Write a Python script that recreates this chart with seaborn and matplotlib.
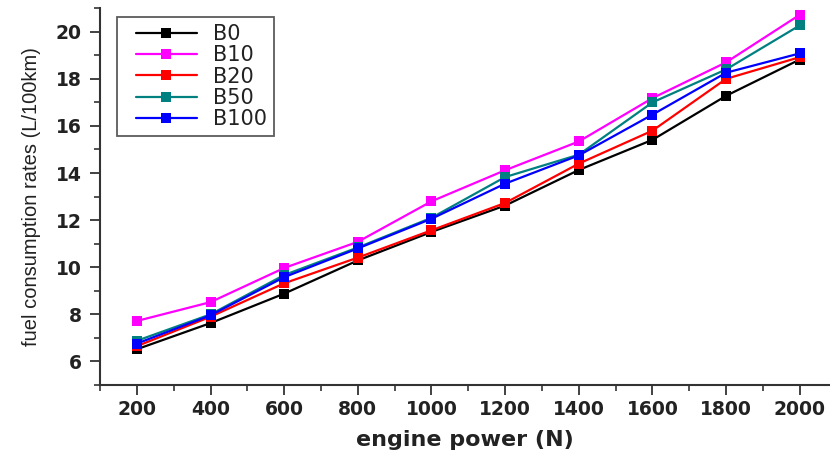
import matplotlib
matplotlib.use("Agg")
import matplotlib.pyplot as plt
import seaborn as sns
import pandas as pd
from matplotlib.ticker import MultipleLocator
from matplotlib.lines import Line2D
from matplotlib.legend_handler import HandlerLine2D

power = [200, 400, 600, 800, 1000, 1200, 1400, 1600, 1800, 2000]
b0 = [6.52, 7.63, 8.88, 10.29, 11.50, 12.62, 14.13, 15.41, 17.28, 18.82]
b10 = [7.72, 8.52, 9.97, 11.08, 12.80, 14.12, 15.34, 17.18, 18.70, 20.72]
b20 = [6.65, 7.90, 9.32, 10.41, 11.57, 12.73, 14.40, 15.80, 18.00, 18.92]
b50 = [6.88, 8.00, 9.67, 10.84, 12.10, 13.83, 14.78, 17.00, 18.40, 20.27]
b100 = [6.76, 7.96, 9.58, 10.80, 12.06, 13.55, 14.75, 16.48, 18.26, 19.08]
series = ["B0", "B10", "B20", "B50", "B100"]
colors = ["#000000", "#FF00FF", "#FF0000", "#008080", "#0000FF"]

rows = []
for name, vals in zip(series, [b0, b10, b20, b50, b100]):
    for p, v in zip(power, vals):
        rows.append({"power": p, "rate": v, "fuel": name})
df = pd.DataFrame(rows)

sns.set_style("ticks")
plt.rcParams["font.family"] = ["DejaVu Sans"]

fig = plt.figure(figsize=(8.3, 4.53), dpi=100)
ax = fig.add_axes([0.1205, 0.150, 0.8795, 0.832])

sns.lineplot(data=df, x="power", y="rate", hue="fuel", hue_order=series,
             palette=colors, style="fuel", markers=["s"] * 5, dashes=False,
             markersize=6.5, markeredgewidth=0, linewidth=1.6, ax=ax)

ax.set_xlim(100, 2082)
ax.set_ylim(5, 21)
ax.set_xticks(power)
ax.set_yticks([6, 8, 10, 12, 14, 16, 18, 20])
ax.xaxis.set_minor_locator(MultipleLocator(100))
ax.yaxis.set_minor_locator(MultipleLocator(1))
ax.tick_params(axis="both", which="major", direction="out", length=7, width=1.3,
               labelsize=13.5, color="#333333", labelcolor="#222222")
ax.tick_params(axis="y", which="major", pad=6)
ax.tick_params(axis="both", which="minor", direction="out", length=4, width=1.2,
               color="#333333")
for lab in ax.get_xticklabels() + ax.get_yticklabels():
    lab.set_fontweight("bold")
for s in ["top", "right"]:
    ax.spines[s].set_visible(False)
for s in ["left", "bottom"]:
    ax.spines[s].set_linewidth(1.5)
    ax.spines[s].set_color("#333333")

ax.set_xlabel("engine power (N)", fontsize=16, fontweight="bold", labelpad=8,
              color="#222222")
ax.set_ylabel("fuel consumption rates (L/100km)", fontsize=14.5,
              family=["Liberation Sans", "DejaVu Sans"], labelpad=11,
              color="#222222")

leg = ax.legend(loc="upper left", bbox_to_anchor=(0.023, 0.976), fontsize=15,
                frameon=True, fancybox=False, edgecolor="#333333",
                handlelength=3.5, borderpad=0.33, labelspacing=0.06,
                handletextpad=0.8, borderaxespad=0,
                handler_map={Line2D: HandlerLine2D(xpad=0.6)})
leg.get_frame().set_linewidth(1.3)
for t in leg.get_texts():
    t.set_color("#222222")

fig.savefig("out.png", dpi=100)
